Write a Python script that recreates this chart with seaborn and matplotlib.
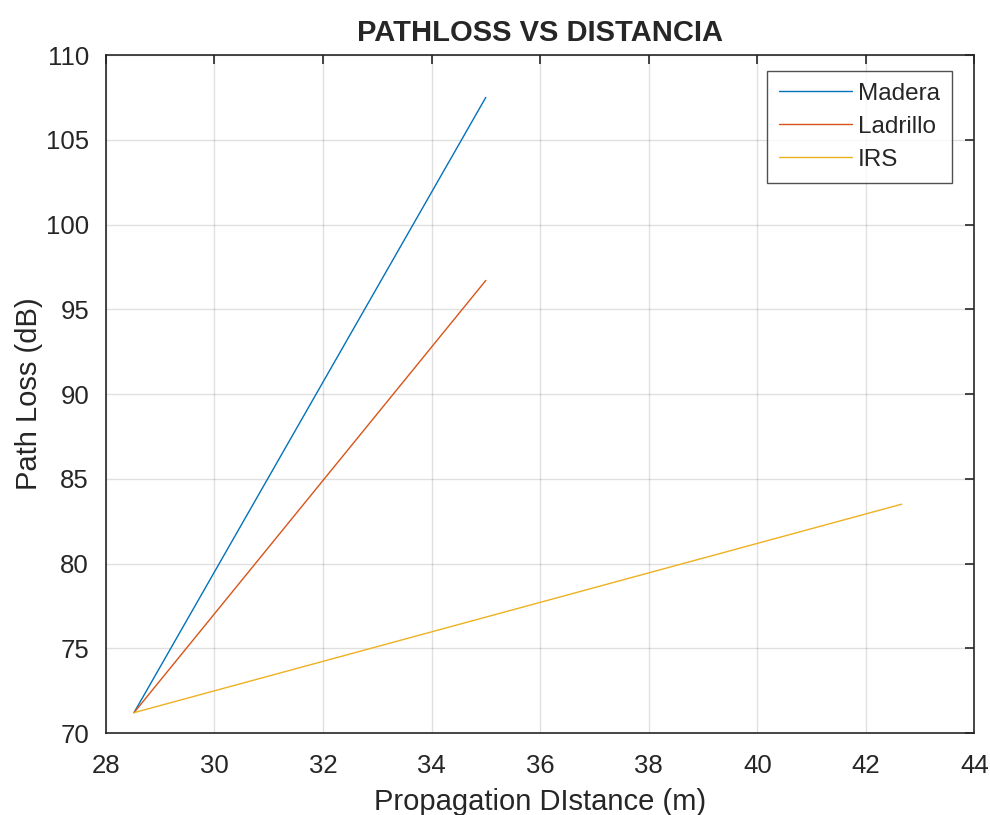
import matplotlib
matplotlib.use("Agg")
import matplotlib.pyplot as plt
import seaborn as sns
import pandas as pd

# Path loss (dB) against propagation distance (m) for each material
madera_dist = [28.52, 35.0]
madera_loss = [71.2, 107.5]
ladrillo_dist = [28.52, 35.0]
ladrillo_loss = [71.2, 96.7]
irs_dist = [28.52, 42.66]
irs_loss = [71.2, 83.5]

series_names = ["Madera", "Ladrillo", "IRS"]
series_colors = ["#0072BD", "#D95319", "#EDB120"]

x_ticks = [28, 30, 32, 34, 36, 38, 40, 42, 44]
y_ticks = [70, 75, 80, 85, 90, 95, 100, 105, 110]

df = pd.concat([
    pd.DataFrame({"dist": madera_dist, "loss": madera_loss, "serie": "Madera"}),
    pd.DataFrame({"dist": ladrillo_dist, "loss": ladrillo_loss, "serie": "Ladrillo"}),
    pd.DataFrame({"dist": irs_dist, "loss": irs_loss, "serie": "IRS"}),
], ignore_index=True)

sns.set_style("white")
plt.rcParams["font.family"] = ["Liberation Sans", "DejaVu Sans"]

fig = plt.figure(figsize=(9.9, 8.15), dpi=100)
ax = fig.add_axes([0.1068, 0.1006, 0.8775, 0.8319])

sns.lineplot(data=df, x="dist", y="loss", hue="serie", hue_order=series_names,
             palette=series_colors, linewidth=1.0, sort=False, estimator=None,
             ax=ax)

ax.set_xlim(28, 44)
ax.set_ylim(70, 110)
ax.set_xticks(x_ticks)
ax.set_yticks(y_ticks)
ax.tick_params(axis="both", direction="in", length=6.5, width=1.2, color="#262626",
               labelsize=18.5, labelcolor="#262626", top=True, right=True)
ax.tick_params(axis="x", pad=15)
ax.tick_params(axis="y", pad=12)
ax.grid(True, color="#000000", alpha=0.12, linewidth=1.0)
for spine in ax.spines.values():
    spine.set_color("#262626")
    spine.set_linewidth(1.2)

ax.set_xlabel("Propagation DIstance (m)", fontsize=21, color="#262626", labelpad=7)
ax.set_ylabel("Path Loss (dB)", fontsize=21, color="#262626", labelpad=2)
ax.set_title("PATHLOSS VS DISTANCIA", fontsize=21, fontweight="bold", pad=10)

leg = ax.legend(loc="upper right", bbox_to_anchor=(0.974, 0.977), fontsize=17.5,
                frameon=True, fancybox=False, edgecolor="#262626",
                handlelength=3.0, handletextpad=0.25, borderpad=0.5,
                labelspacing=0.45, borderaxespad=0.0)
leg.get_frame().set_linewidth(1.0)

fig.savefig("out.png", dpi=100)
